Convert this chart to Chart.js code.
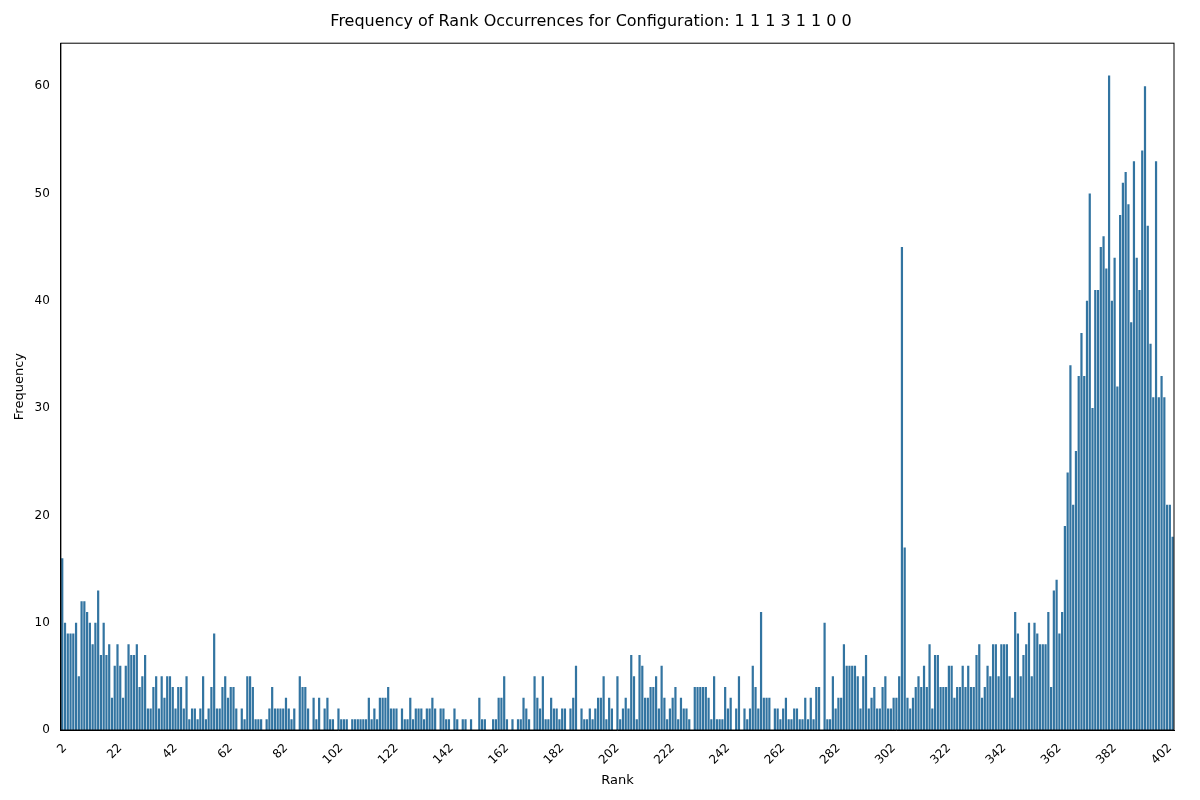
<!DOCTYPE html>
<html lang="en">
<head>
<meta charset="UTF-8">
<title>Rank frequency</title>
<style>
  body{margin:0;background:#fff}
  canvas{display:block}
</style>
</head>
<body>
<canvas id="chart" width="1200" height="800"></canvas>
<script src="https://cdn.jsdelivr.net/npm/chart.js"></script>
<script>
const titleText = 'Frequency of Rank Occurrences for Configuration: 1 1 1 3 1 1 0 0'
const yTicks = [0, 10, 20, 30, 40, 50, 60]

// frequency per rank, rank 1..403
const freqs = [
  16,10,9,9,9,10,5,12,12,11,10,8,10,13,7,10,7,8,3,6,8,6,3,6,8,7,7,8,4,5,7,2,2,4,5,2,5,
  3,5,5,4,2,4,4,2,5,1,2,2,1,2,5,1,2,4,9,2,2,4,5,3,4,4,2,0,2,1,5,5,4,1,1,1,
  0,1,2,4,2,2,2,2,3,2,1,2,0,5,4,4,2,0,3,1,3,0,2,3,1,1,0,2,1,1,1,0,1,1,1,
  1,1,1,3,1,2,1,3,3,3,4,2,2,2,0,2,1,1,3,1,2,2,2,1,2,2,3,2,0,2,2,1,1,0,2,1,
  0,1,1,0,1,0,0,3,1,1,0,0,1,1,3,3,5,1,0,1,0,1,1,3,2,1,0,5,3,2,5,1,1,3,2,2,1,
  2,2,0,2,3,6,0,2,1,1,2,1,2,3,3,5,1,3,2,0,5,1,2,3,2,7,5,1,7,6,3,3,4,4,5,2,
  6,3,1,2,3,4,1,3,2,2,1,0,4,4,4,4,4,3,1,5,1,1,1,4,2,3,0,2,5,0,2,1,2,6,4,2,11,
  3,3,3,0,2,2,1,2,3,1,1,2,2,1,1,3,1,3,1,4,4,0,10,1,1,5,2,3,3,8,6,6,6,6,5,2,
  5,7,2,3,4,2,2,4,5,2,2,3,3,5,45,17,3,2,3,4,5,4,6,4,8,2,7,7,4,4,4,6,6,3,4,4,6,
  4,6,4,4,7,8,3,4,6,5,8,8,5,8,8,8,5,3,11,9,5,7,8,10,5,10,9,8,8,8,11,
  4,13,14,9,11,19,24,34,21,26,33,37,33,40,50,30,41,41,45,46,
  43,61,40,44,32,48,51,52,49,38,53,44,41,54,60,47,36,31,53,31,
  33,31,21,21,18
]
const ranks = freqs.map((f, i) => String(i + 1))

const frame = {
  id: 'frame',
  afterDraw(chart) {
    const a = chart.chartArea, c = chart.ctx
    c.save()
    c.strokeStyle = '#000'
    c.lineWidth = 1
    c.strokeRect(a.left, a.top, a.right - a.left, a.bottom - a.top)
    c.restore()
  }
}

new Chart(document.getElementById('chart'), {
  type: 'bar',
  data: {
    labels: ranks,
    datasets: [{
      data: freqs,
      backgroundColor: '#3274a1',
      barPercentage: 0.8,
      categoryPercentage: 1.0
    }]
  },
  options: {
    responsive: false,
    animation: false,
    layout: {padding: {left: 8, right: 26, top: 0, bottom: 8}},
    plugins: {
      legend: {display: false},
      tooltip: {enabled: false},
      title: {display: true, text: titleText, color: '#000',
        font: {family: 'DejaVu Sans', size: 16, weight: 'normal'},
        padding: {top: 12, bottom: 12}}
    },
    scales: {
      x: {
        grid: {display: false},
        border: {color: '#000'},
        ticks: {
          autoSkip: false, maxRotation: 45, minRotation: 45, color: '#000',
          font: {family: 'DejaVu Sans', size: 12},
          callback: function(v, i) { return (i - 1) % 20 === 0 ? ranks[i] : null }
        },
        title: {display: true, text: 'Rank', color: '#000',
          font: {family: 'DejaVu Sans', size: 13}, padding: {top: 2}}
      },
      y: {
        min: 0, max: 64,
        grid: {display: false},
        border: {color: '#000'},
        afterBuildTicks: s => { s.ticks = yTicks.map(v => ({value: v})) },
        ticks: {color: '#000', font: {family: 'DejaVu Sans', size: 12}},
        title: {display: true, text: 'Frequency', color: '#000',
          font: {family: 'DejaVu Sans', size: 13}}
      }
    }
  },
  plugins: [frame]
})
</script>
</body>
</html>
